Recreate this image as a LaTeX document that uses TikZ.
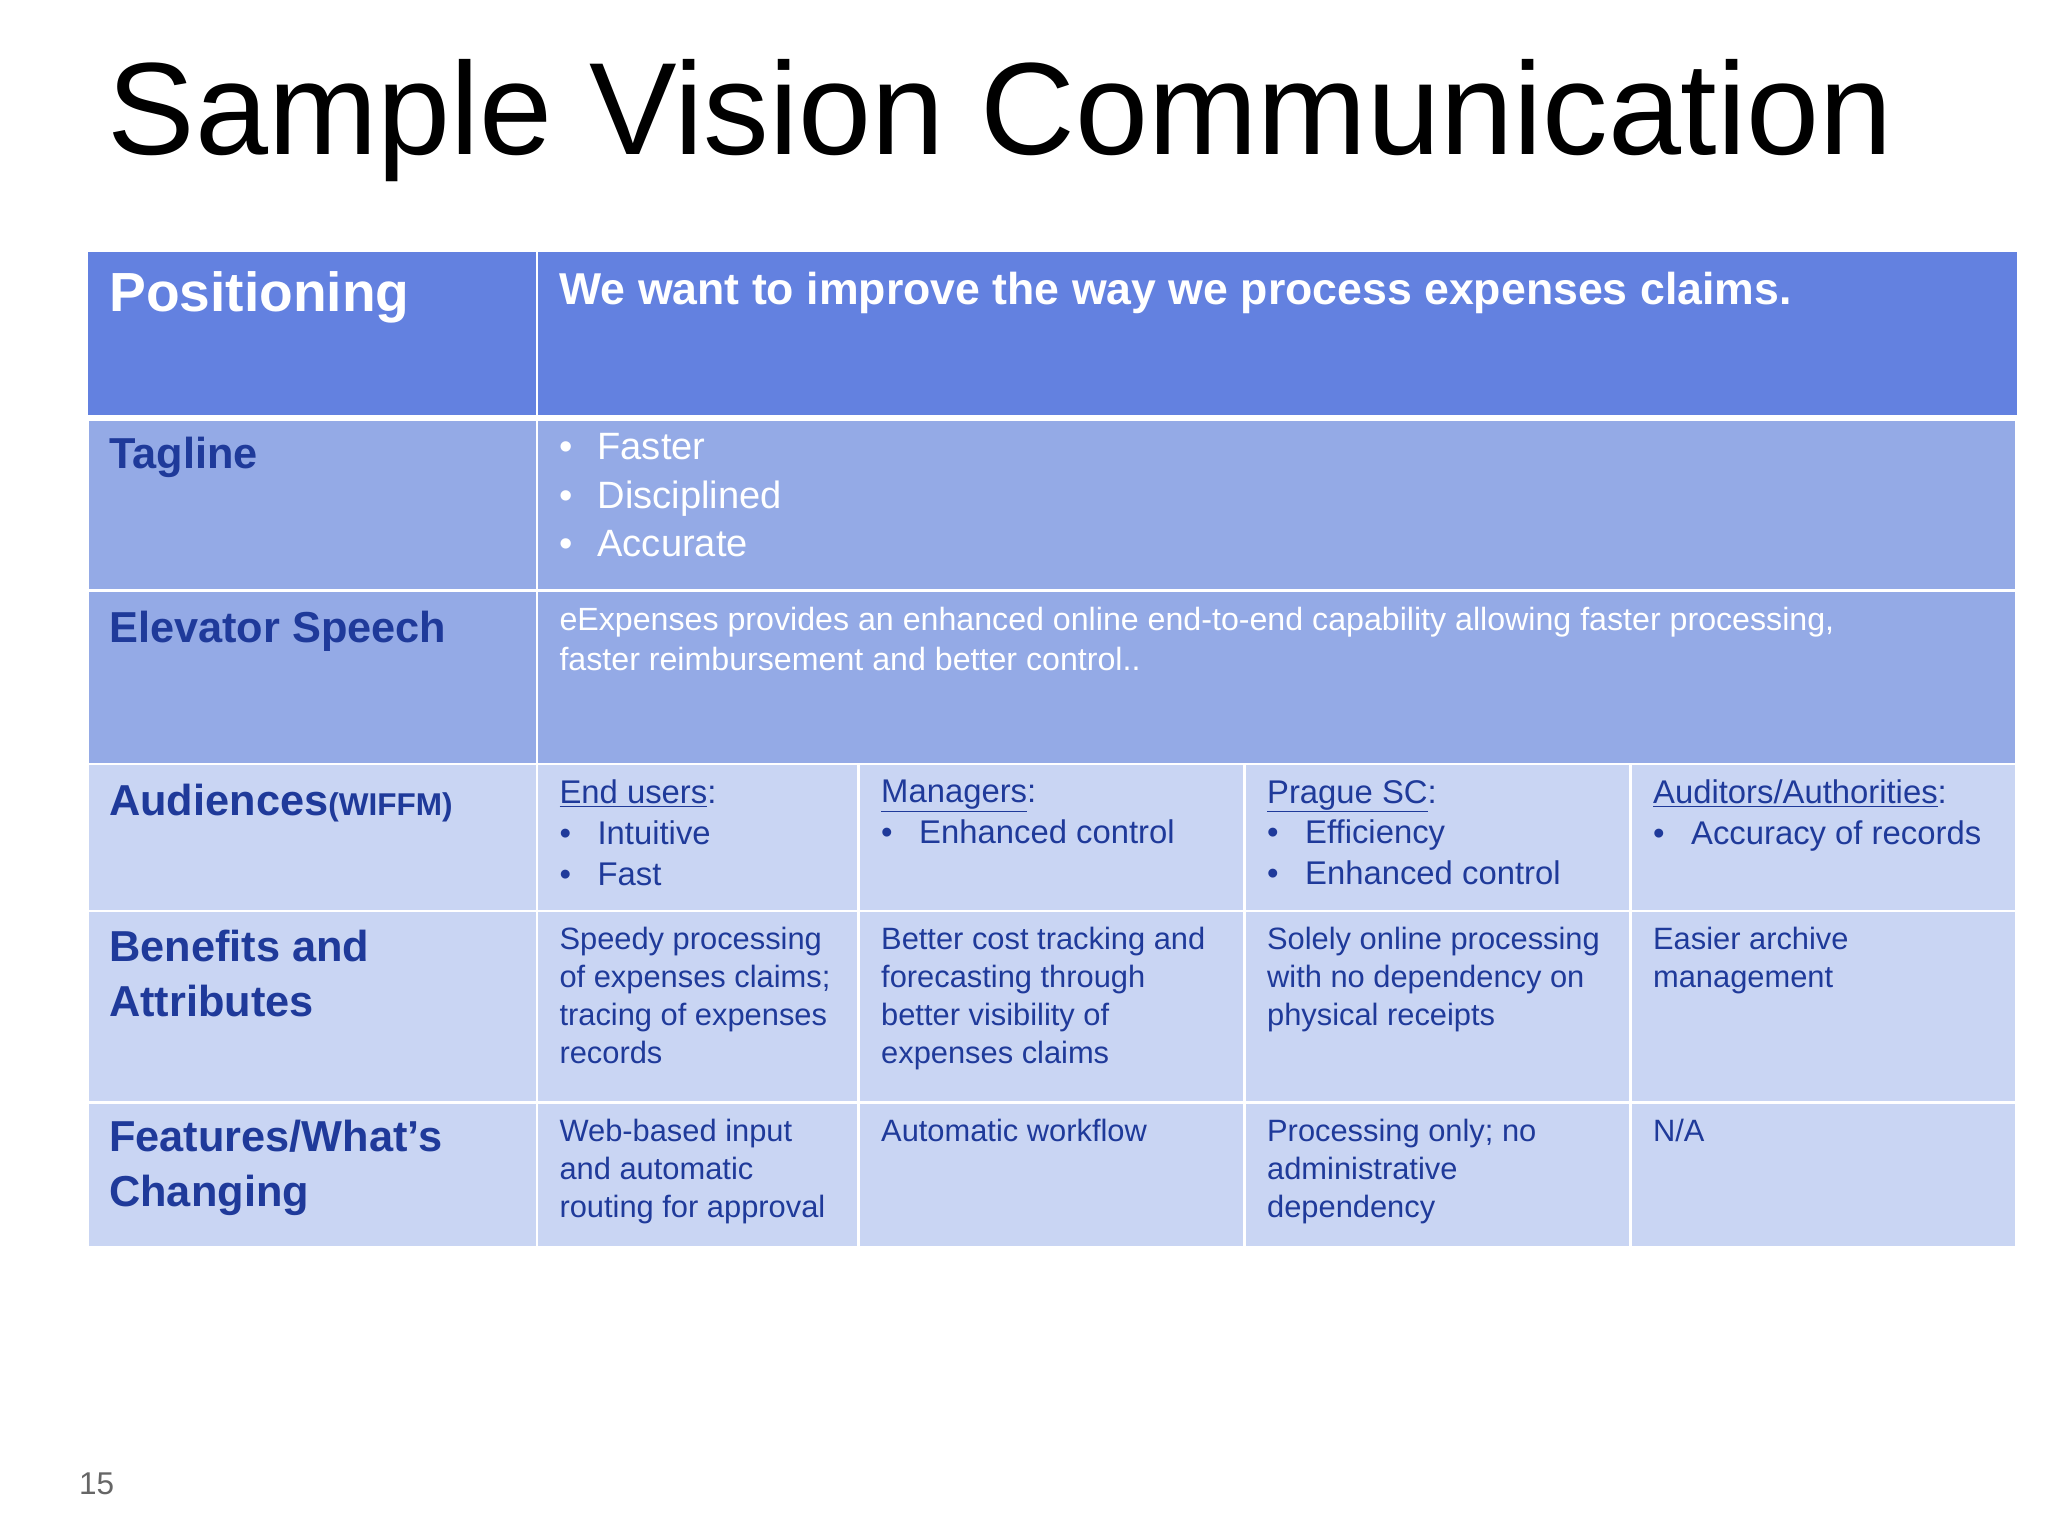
\documentclass[tikz,border=0pt]{standalone}
\usepackage{fontspec}
\setmainfont{Liberation Sans}
\definecolor{hdr}{HTML}{6381E0}
\definecolor{mid}{HTML}{94AAE6}
\definecolor{low}{HTML}{C9D5F3}
\definecolor{dk}{HTML}{1F3A9A}
\definecolor{pg}{HTML}{666666}
\newcommand{\bl}{\makebox[29pt][l]{•}}
\begin{document}
\begin{tikzpicture}[x=1pt,y=-1pt,
  cell/.style={draw=white,line width=2pt},
  lab/.style={anchor=north west,align=left,inner sep=0pt,text=dk,font=\bfseries\fontsize{33}{42}\selectfont},
  body/.style={anchor=north west,align=left,inner sep=0pt,text=dk,font=\fontsize{23.5}{29}\selectfont},
  aud/.style={anchor=north west,align=left,inner sep=0pt,text=dk,font=\fontsize{25}{31}\selectfont}]
\useasboundingbox (0,0) rectangle (1560,1170);
\fill[white] (0,0) rectangle (1560,1170);
\fill[hdr] (67,192) rectangle (1536,316);
\draw[white,line width=2pt] (409,192) -- (409,316);
\fill[mid] (67,320) rectangle (1536,582);
\fill[low] (67,582) rectangle (1536,950);
\foreach \a/\b in {320/450,450/582}{\draw[cell] (67,\a) rectangle (409,\b); \draw[cell] (409,\a) rectangle (1536,\b);}
\foreach \a/\b in {582/694,694/840,840/950}{
 \draw[cell] (67,\a) rectangle (409,\b);
 \foreach \c/\d in {409/654,654/948,948/1242,1242/1536}{\draw[cell] (\c,\a) rectangle (\d,\b);}}
\node[anchor=base,inner sep=0pt,font=\fontsize{100}{100}\selectfont] (title) at (762,118) {Sample Vision Communication};
\node[lab,text=white,font=\bfseries\fontsize{42}{48}\selectfont] (pos) at (83,207) {Positioning};
\node[lab,text=white,font=\bfseries\fontsize{34}{40}\selectfont] (want) at (426,207) {We want to improve the way we process expenses claims.};
\node[lab] (tag) at (83,333) {Tagline};
\node[anchor=north west,align=left,inner sep=0pt,text=white,font=\fontsize{29}{37}\selectfont] (tagb) at (426,330) {\bl Faster\\\bl Disciplined\\\bl Accurate};
\node[lab] (elev) at (83,465) {Elevator Speech};
\node[anchor=north west,align=left,inner sep=0pt,text=white,font=\fontsize{24.5}{31}\selectfont] (elevb) at (426,462) {eExpenses provides an enhanced online end-to-end capability allowing faster processing,\\faster reimbursement and better control..};
\node[lab] (aud) at (83,597) {Audiences{\fontsize{24}{30}\selectfont(WIFFM)}};
\node[aud] (a1) at (426,594) {\underline{End users}:\\\bl Intuitive\\\bl Fast};
\node[aud] (a2) at (671,594) {\underline{Managers}:\\\bl Enhanced control};
\node[aud] (a3) at (965,594) {\underline{Prague SC}:\\\bl Efficiency\\\bl Enhanced control};
\node[aud] (a4) at (1259,594) {\underline{Auditors/Authorities}:\\\bl Accuracy of records};
\node[lab] (ben) at (83,708) {Benefits and\\Attributes};
\node[body] (b1) at (426,706) {Speedy processing\\of expenses claims;\\tracing of expenses\\records};
\node[body] (b2) at (671,706) {Better cost tracking and\\forecasting through\\better visibility of\\expenses claims};
\node[body] (b3) at (965,706) {Solely online processing\\with no dependency on\\physical receipts};
\node[body] (b4) at (1259,706) {Easier archive\\management};
\node[lab] (feat) at (83,853) {Features/What’s\\Changing};
\node[body] (f1) at (426,852) {Web-based input\\and automatic\\routing for approval};
\node[body] (f2) at (671,852) {Automatic workflow};
\node[body] (f3) at (965,852) {Processing only; no\\administrative\\dependency};
\node[body] (f4) at (1259,852) {N/A};
\node[anchor=base west,inner sep=0pt,text=pg,font=\fontsize{24}{24}\selectfont] (pn) at (60,1138) {15};
\end{tikzpicture}
\end{document}
